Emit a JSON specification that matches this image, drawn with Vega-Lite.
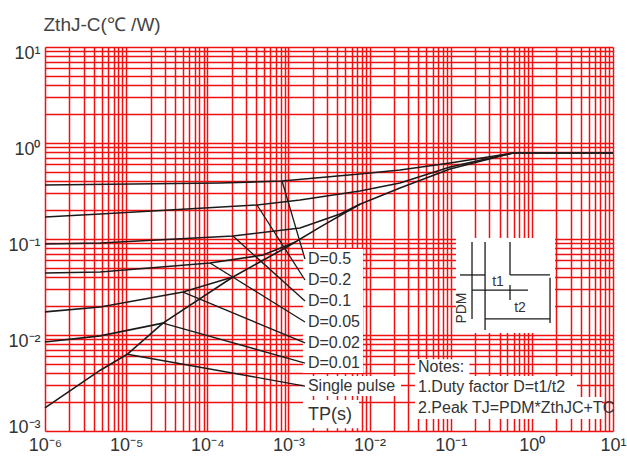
{
  "$schema": "https://vega.github.io/schema/vega-lite/v6.json",
  "width": 568,
  "height": 384,
  "autosize": {"type": "none"},
  "padding": {"left": 45, "top": 47, "right": 14, "bottom": 26},
  "background": "white",
  "config": {"view": {"stroke": null}, "font": "Liberation Sans"},
  "datasets": {
    "curves": [
      {"s": "Single pulse", "t": 1e-6, "z": 0.00174},
      {"s": "Single pulse", "t": 4.8e-6, "z": 0.0043},
      {"s": "Single pulse", "t": 1.03e-5, "z": 0.0063},
      {"s": "Single pulse", "t": 2.84e-5, "z": 0.0133},
      {"s": "Single pulse", "t": 2.07e-4, "z": 0.0402},
      {"s": "Single pulse", "t": 9.6e-4, "z": 0.0826},
      {"s": "Single pulse", "t": 2.45e-3, "z": 0.133},
      {"s": "Single pulse", "t": 7.6e-3, "z": 0.23},
      {"s": "Single pulse", "t": 0.0237, "z": 0.34},
      {"s": "Single pulse", "t": 0.098, "z": 0.535},
      {"s": "Single pulse", "t": 0.586, "z": 0.787},
      {"s": "Single pulse", "t": 10, "z": 0.787},
      {"s": "D=0.01", "t": 1e-6, "z": 0.00845},
      {"s": "D=0.01", "t": 4.8e-6, "z": 0.0098},
      {"s": "D=0.01", "t": 2.84e-5, "z": 0.0133},
      {"s": "D=0.02", "t": 1e-6, "z": 0.0174},
      {"s": "D=0.02", "t": 4.8e-6, "z": 0.0196},
      {"s": "D=0.02", "t": 5.03e-5, "z": 0.028},
      {"s": "D=0.02", "t": 2.07e-4, "z": 0.0402},
      {"s": "D=0.05", "t": 1e-6, "z": 0.0442},
      {"s": "D=0.05", "t": 4.8e-6, "z": 0.0453},
      {"s": "D=0.05", "t": 1.08e-4, "z": 0.0562},
      {"s": "D=0.05", "t": 4.87e-4, "z": 0.068},
      {"s": "D=0.05", "t": 1.2e-3, "z": 0.0926},
      {"s": "D=0.1", "t": 1e-6, "z": 0.0887},
      {"s": "D=0.1", "t": 4.8e-6, "z": 0.0908},
      {"s": "D=0.1", "t": 2.07e-4, "z": 0.1075},
      {"s": "D=0.1", "t": 1.39e-3, "z": 0.13},
      {"s": "D=0.1", "t": 4.33e-3, "z": 0.182},
      {"s": "D=0.1", "t": 7.6e-3, "z": 0.23},
      {"s": "D=0.2", "t": 1e-6, "z": 0.1695},
      {"s": "D=0.2", "t": 4.8e-6, "z": 0.182},
      {"s": "D=0.2", "t": 4.1e-4, "z": 0.226},
      {"s": "D=0.2", "t": 1.39e-3, "z": 0.255},
      {"s": "D=0.2", "t": 7.6e-3, "z": 0.316},
      {"s": "D=0.2", "t": 0.0237, "z": 0.383},
      {"s": "D=0.2", "t": 0.098, "z": 0.562},
      {"s": "D=0.2", "t": 0.586, "z": 0.787},
      {"s": "D=0.5", "t": 1e-6, "z": 0.365},
      {"s": "D=0.5", "t": 1.44e-4, "z": 0.383},
      {"s": "D=0.5", "t": 8.34e-4, "z": 0.402},
      {"s": "D=0.5", "t": 7.6e-3, "z": 0.475},
      {"s": "D=0.5", "t": 0.0237, "z": 0.523},
      {"s": "D=0.5", "t": 0.098, "z": 0.619},
      {"s": "D=0.5", "t": 0.586, "z": 0.787},
      {"s": "D=0.5", "t": 10, "z": 0.787}
    ],
    "leaders": [
      {"s": "D=0.5", "t": 8.34e-4, "z": 0.402},
      {"s": "D=0.5", "t": 1.6e-3, "z": 0.0619},
      {"s": "D=0.2", "t": 4.1e-4, "z": 0.226},
      {"s": "D=0.2", "t": 1.6e-3, "z": 0.0374},
      {"s": "D=0.1", "t": 2.07e-4, "z": 0.1075},
      {"s": "D=0.1", "t": 1.6e-3, "z": 0.0226},
      {"s": "D=0.05", "t": 1.08e-4, "z": 0.0562},
      {"s": "D=0.05", "t": 1.6e-3, "z": 0.01365},
      {"s": "D=0.02", "t": 5.03e-5, "z": 0.028},
      {"s": "D=0.02", "t": 1.6e-3, "z": 0.00826},
      {"s": "D=0.01", "t": 2.84e-5, "z": 0.0133},
      {"s": "D=0.01", "t": 1.6e-3, "z": 0.0051},
      {"s": "Single pulse", "t": 1.03e-5, "z": 0.0063},
      {"s": "Single pulse", "t": 1.6e-3, "z": 0.00294}
    ],
    "labels": [
      {"t": 1.74e-3, "z": 0.0619, "label": "D=0.5"},
      {"t": 1.74e-3, "z": 0.0374, "label": "D=0.2"},
      {"t": 1.74e-3, "z": 0.0226, "label": "D=0.1"},
      {"t": 1.74e-3, "z": 0.01365, "label": "D=0.05"},
      {"t": 1.74e-3, "z": 0.00826, "label": "D=0.02"},
      {"t": 1.74e-3, "z": 0.0051, "label": "D=0.01"},
      {"t": 1.74e-3, "z": 0.00294, "label": "Single pulse"},
      {"t": 0.0395, "z": 0.00464, "label": "Notes:"},
      {"t": 0.0395, "z": 0.00287, "label": "1.Duty factor D=t1/t2"},
      {"t": 0.0395, "z": 0.00174, "label": "2.Peak TJ=PDM*ZthJC+TC"}
    ],
    "boxes": [
      {"t": 1.51e-3, "t2": 8.3e-3, "z": 0.0787, "z2": 0.00402},
      {"t": 1.51e-3, "t2": 0.0244, "z": 0.00374, "z2": 0.00232},
      {"t": 1.51e-3, "t2": 7.4e-3, "z": 0.0021, "z2": 0.00107},
      {"t": 0.0363, "t2": 0.17, "z": 0.0056, "z2": 0.00374},
      {"t": 0.0363, "t2": 3.6, "z": 0.00374, "z2": 0.00226},
      {"t": 0.0363, "t2": 7.3, "z": 0.00226, "z2": 0.00133},
      {"t": 0.116, "t2": 1.93, "z": 0.1023, "z2": 0.0105}
    ],
    "inset": [
      {"t": 0.183, "t2": 0.183, "z": 0.0931, "z2": 0.0147},
      {"t": 0.13, "t2": 0.265, "z": 0.0422, "z2": 0.0422},
      {"t": 0.265, "t2": 0.265, "z": 0.0931, "z2": 0.01128},
      {"t": 0.538, "t2": 0.538, "z": 0.0931, "z2": 0.0422},
      {"t": 0.538, "t2": 1.675, "z": 0.0422, "z2": 0.0422},
      {"t": 1.675, "t2": 1.675, "z": 0.0394, "z2": 0.0133},
      {"t": 0.183, "t2": 0.897, "z": 0.0294, "z2": 0.0294},
      {"t": 0.538, "t2": 0.538, "z": 0.0332, "z2": 0.0232},
      {"t": 0.265, "t2": 1.675, "z": 0.0147, "z2": 0.0147}
    ],
    "insetText": [
      {"t": 0.383, "z": 0.0356, "label": "t1", "a": 0},
      {"t": 0.714, "z": 0.0191, "label": "t2", "a": 0},
      {"t": 0.138, "z": 0.0191, "label": "PDM", "a": 270}
    ]
  },
  "layer": [
    {
      "data": {"name": "boxes"},
      "mark": {"type": "rect", "color": "white"},
      "encoding": {
        "x": {
          "field": "t", "type": "quantitative",
          "scale": {"type": "log", "domain": [1e-6, 10], "nice": false},
          "axis": {
            "title": null,
            "values": [1e-6,2e-6,3e-6,4e-6,5e-6,6e-6,7e-6,8e-6,9e-6,1e-5,2e-5,3e-5,4e-5,5e-5,6e-5,7e-5,8e-5,9e-5,1e-4,2e-4,3e-4,4e-4,5e-4,6e-4,7e-4,8e-4,9e-4,1e-3,2e-3,3e-3,4e-3,5e-3,6e-3,7e-3,8e-3,9e-3,0.01,0.02,0.03,0.04,0.05,0.06,0.07,0.08,0.09,0.1,0.2,0.3,0.4,0.5,0.6,0.7,0.8,0.9,1,2,3,4,5,6,7,8,9,10],
            "labelExpr": "abs(log(datum.value)/LN10 - round(log(datum.value)/LN10)) < 0.01 ? ['10⁻⁶','10⁻⁵','10⁻⁴','10⁻³','10⁻²','10⁻¹','10⁰','10¹'][round(log(datum.value)/LN10)+6] : ''",
            "labelOverlap": false,
            "labelFlush": false,
            "labelBound": false,
            "labelFontSize": 18,
            "labelColor": "#333333",
            "labelPadding": 5,
            "ticks": false,
            "domain": false,
            "grid": true,
            "gridColor": "#f01010",
            "gridWidth": 1.5,
            "gridOpacity": 1
          }
        },
        "x2": {"field": "t2"},
        "y": {
          "field": "z", "type": "quantitative",
          "scale": {"type": "log", "domain": [0.001, 10], "nice": false},
          "axis": {
            "title": "ZthJ-C(℃ /W)",
            "titleAngle": 0,
            "titleAlign": "left",
            "titleBaseline": "middle",
            "titleX": -2,
            "titleY": -23,
            "titleFontSize": 19,
            "titleFontWeight": "normal",
            "titleColor": "#444444",
            "values": [0.001,0.002,0.003,0.004,0.005,0.006,0.007,0.008,0.009,0.01,0.02,0.03,0.04,0.05,0.06,0.07,0.08,0.09,0.1,0.2,0.3,0.4,0.5,0.6,0.7,0.8,0.9,1,2,3,4,5,6,7,8,9,10],
            "labelExpr": "abs(log(datum.value)/LN10 - round(log(datum.value)/LN10)) < 0.01 ? ['10⁻³','10⁻²','10⁻¹','10⁰','10¹'][round(log(datum.value)/LN10)+3] : ''",
            "labelOverlap": false,
            "labelBound": false,
            "labelFlush": false,
            "labelFontSize": 18,
            "labelColor": "#333333",
            "labelPadding": 5,
            "labelOffset": {"condition": {"test": "datum.value < 0.005", "value": -4}, "value": 6},
            "ticks": false,
            "domain": false,
            "grid": true,
            "gridColor": "#f01010",
            "gridWidth": 1.5,
            "gridOpacity": 1
          }
        },
        "y2": {"field": "z2"}
      }
    },
    {
      "data": {"name": "curves"},
      "mark": {"type": "line", "color": "#1a1a1a", "strokeWidth": 1.6},
      "encoding": {
        "x": {"field": "t", "type": "quantitative"},
        "y": {"field": "z", "type": "quantitative"},
        "detail": {"field": "s"}
      }
    },
    {
      "data": {"name": "leaders"},
      "mark": {"type": "line", "color": "#1a1a1a", "strokeWidth": 1.3},
      "encoding": {
        "x": {"field": "t", "type": "quantitative"},
        "y": {"field": "z", "type": "quantitative"},
        "detail": {"field": "s"}
      }
    },
    {
      "data": {"name": "inset"},
      "mark": {"type": "rule", "color": "#1a1a1a", "strokeWidth": 1.3},
      "encoding": {
        "x": {"field": "t", "type": "quantitative"},
        "x2": {"field": "t2"},
        "y": {"field": "z", "type": "quantitative"},
        "y2": {"field": "z2"}
      }
    },
    {
      "data": {"name": "labels"},
      "mark": {"type": "text", "align": "left", "baseline": "middle", "fontSize": 16, "color": "#333333"},
      "encoding": {
        "x": {"field": "t", "type": "quantitative"},
        "y": {"field": "z", "type": "quantitative"},
        "text": {"field": "label"}
      }
    },
    {
      "data": {"values": [{"t": 1.74e-3, "z": 0.00147, "label": "TP(s)"}]},
      "mark": {"type": "text", "align": "left", "baseline": "middle", "fontSize": 18, "color": "#333333"},
      "encoding": {
        "x": {"field": "t", "type": "quantitative"},
        "y": {"field": "z", "type": "quantitative"},
        "text": {"field": "label"}
      }
    },
    {
      "data": {"name": "insetText"},
      "mark": {"type": "text", "align": "center", "baseline": "middle", "fontSize": 14, "color": "#333333"},
      "encoding": {
        "x": {"field": "t", "type": "quantitative"},
        "y": {"field": "z", "type": "quantitative"},
        "text": {"field": "label"},
        "angle": {"field": "a", "type": "quantitative", "scale": null}
      }
    }
  ]
}
